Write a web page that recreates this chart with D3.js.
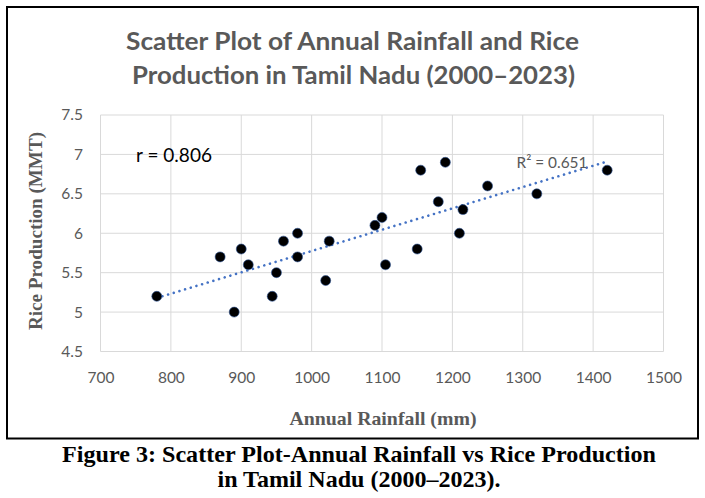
<!DOCTYPE html>
<html>
<head>
<meta charset="utf-8">
<script src="https://cdn.jsdelivr.net/npm/d3@7"></script>
<style>
  html, body { margin: 0; padding: 0; background: #fff; }
  svg { display: block; }
</style>
</head>
<body>
<svg id="chart" width="705" height="498"></svg>
<script>
// ---- Data ----
const rainfall = [780, 870, 890, 900, 910, 944, 950, 960, 980, 980, 1020, 1025,
                  1090, 1100, 1105, 1150, 1155, 1180, 1190, 1210, 1215, 1250, 1320, 1420];
const production = [5.2, 5.7, 5.0, 5.8, 5.6, 5.2, 5.5, 5.9, 6.0, 5.7, 5.4, 5.9,
                    6.1, 6.2, 5.6, 5.8, 6.8, 6.4, 6.9, 6.0, 6.3, 6.6, 6.5, 6.8];
const xTicks = [700, 800, 900, 1000, 1100, 1200, 1300, 1400, 1500];
const yTicks = [4.5, 5, 5.5, 6, 6.5, 7, 7.5];
const titleLines = ["Scatter Plot of Annual Rainfall and Rice", "Production in Tamil Nadu (2000\u20132023)"];
const captionLines = ["Figure 3: Scatter Plot-Annual Rainfall vs Rice Production", "in Tamil Nadu (2000\u20132023)."];
const rLabel = "r = 0.806";
const r2Label = "R\u00B2 = 0.651";

const svg = d3.select("#chart");
const plot = { left: 100.5, right: 663.5, top: 115, bottom: 351.5 };

const x = d3.scaleLinear().domain([700, 1500]).range([plot.left, plot.right]);
const y = d3.scaleLinear().domain([4.5, 7.5]).range([plot.bottom, plot.top]);

const sansFont = "Lato, 'Open Sans', sans-serif";
const serifFont = "'Liberation Serif', 'DejaVu Serif', serif";

// Outer frame
svg.append("rect")
  .attr("x", 7).attr("y", 7).attr("width", 691).attr("height", 431.5)
  .attr("fill", "none").attr("stroke", "#000").attr("stroke-width", 2);

// Title
svg.append("g").selectAll("text").data(titleLines).join("text")
  .attr("x", (d, i) => i === 0 ? 352.5 : 353.5)
  .attr("y", (d, i) => i === 0 ? 50 : 84)
  .attr("text-anchor", "middle")
  .attr("font-family", sansFont)
  .attr("font-weight", "bold")
  .attr("font-size", 25)
  .attr("fill", "#595959")
  .attr("textLength", (d, i) => i === 0 ? 453 : 443)
  .attr("lengthAdjust", "spacingAndGlyphs")
  .text(d => d);

// Gridlines
const grid = svg.append("g");
grid.selectAll("line.v").data(xTicks).join("line")
  .attr("class", "v")
  .attr("x1", d => x(d)).attr("x2", d => x(d))
  .attr("y1", plot.top).attr("y2", plot.bottom)
  .attr("stroke", "#d9d9d9").attr("stroke-width", 1);
grid.selectAll("line.h").data(yTicks).join("line")
  .attr("class", "h")
  .attr("x1", plot.left).attr("x2", plot.right)
  .attr("y1", d => y(d)).attr("y2", d => y(d))
  .attr("stroke", "#d9d9d9").attr("stroke-width", 1);

// Axes (labels only, via d3 axes)
const xAxis = d3.axisBottom(x).tickValues(xTicks).tickSize(0).tickPadding(0).tickFormat(d3.format("d"));
const gx = svg.append("g").attr("transform", `translate(0, 372)`).call(xAxis);
gx.select(".domain").remove();
gx.selectAll("text")
  .attr("font-family", sansFont).attr("font-size", 15.5).attr("fill", "#595959").attr("dy", "0.71em");

const yAxis = d3.axisLeft(y).tickValues(yTicks).tickSize(0).tickPadding(0).tickFormat(d => String(d));
const gy = svg.append("g").attr("transform", `translate(83, 0)`).call(yAxis);
gy.select(".domain").remove();
gy.selectAll("text")
  .attr("font-family", sansFont).attr("font-size", 15.5).attr("fill", "#595959");

// Trendline (least squares)
const n = rainfall.length;
const mx = d3.mean(rainfall), my = d3.mean(production);
let sxy = 0, sxx = 0;
for (let i = 0; i < n; i++) { sxy += (rainfall[i] - mx) * (production[i] - my); sxx += (rainfall[i] - mx) ** 2; }
const slope = sxy / sxx, intercept = my - slope * mx;
const xr = d3.extent(rainfall);
svg.append("line")
  .attr("x1", x(xr[0])).attr("y1", y(intercept + slope * xr[0]))
  .attr("x2", x(xr[1])).attr("y2", y(intercept + slope * xr[1]))
  .attr("stroke", "#4472C4").attr("stroke-width", 2.6)
  .attr("stroke-linecap", "round")
  .attr("stroke-dasharray", "0.01 5.9");

// Points
svg.append("g").selectAll("circle").data(rainfall.map((d, i) => [d, production[i]])).join("circle")
  .attr("cx", d => x(d[0])).attr("cy", d => y(d[1])).attr("r", 5)
  .attr("fill", "#000").attr("stroke", "#2f5597").attr("stroke-width", 0.6);

// Annotations
svg.append("text")
  .attr("x", 136).attr("y", 162)
  .attr("font-family", sansFont).attr("font-size", 20).attr("fill", "#000")
  .attr("textLength", 76).attr("lengthAdjust", "spacingAndGlyphs")
  .text(rLabel);
svg.append("text")
  .attr("x", 516.5).attr("y", 168)
  .attr("font-family", sansFont).attr("font-size", 16).attr("fill", "#595959")
  .attr("textLength", 71).attr("lengthAdjust", "spacingAndGlyphs")
  .text(r2Label);

// Axis titles
svg.append("text")
  .attr("x", 383).attr("y", 425)
  .attr("text-anchor", "middle")
  .attr("font-family", serifFont).attr("font-weight", "bold").attr("font-size", 19.5)
  .attr("fill", "#595959")
  .attr("textLength", 187).attr("lengthAdjust", "spacingAndGlyphs")
  .text("Annual Rainfall (mm)");
svg.append("text")
  .attr("transform", "translate(41.5, 231) rotate(-90)")
  .attr("text-anchor", "middle")
  .attr("font-family", serifFont).attr("font-weight", "bold").attr("font-size", 19.5)
  .attr("fill", "#595959")
  .attr("textLength", 198).attr("lengthAdjust", "spacingAndGlyphs")
  .text("Rice Production (MMT)");

// Caption
svg.append("g").selectAll("text").data(captionLines).join("text")
  .attr("x", 359)
  .attr("y", (d, i) => i === 0 ? 462 : 486.5)
  .attr("text-anchor", "middle")
  .attr("font-family", serifFont).attr("font-weight", "bold").attr("font-size", 23)
  .attr("fill", "#000")
  .attr("textLength", (d, i) => i === 0 ? 594 : 283)
  .attr("lengthAdjust", "spacingAndGlyphs")
  .text(d => d);
</script>
</body>
</html>
